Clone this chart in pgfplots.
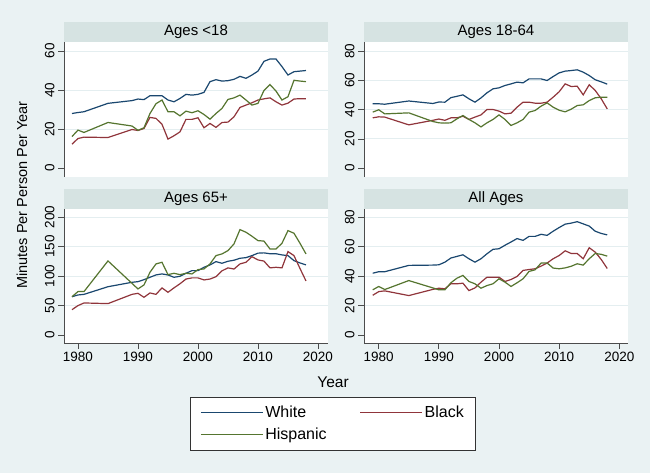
\documentclass[border=0pt]{standalone}
\usepackage{pgfplots}
\pgfplotsset{compat=1.18}
\usepackage{pgfplotstable}
\usepackage{fontspec}
\setmainfont{Liberation Sans}

\definecolor{bgcol}{HTML}{EAF2F3}
\definecolor{bandcol}{HTML}{D6E3E2}
\definecolor{gridcol}{HTML}{E4EEF0}
\definecolor{stnavy}{RGB}{26,71,111}
\definecolor{stmaroon}{RGB}{144,53,59}
\definecolor{stgreen}{RGB}{85,117,47}

% year, white, black, hispanic
\pgfplotstableread{
year white black hisp
1979 28.0 12.3 16.2
1980 28.5 15.2 19.5
1981 28.9 15.9 18.3
1985 33.2 15.7 23.4
1989 34.6 19.8 21.6
1990 35.4 19.3 19.4
1991 35.1 20.3 20.7
1992 37.1 26.0 28.0
1993 37.1 25.5 33.0
1994 37.1 22.5 34.9
1995 34.9 14.9 28.9
1996 34.0 16.6 28.9
1997 35.7 18.6 26.8
1998 37.8 25.0 29.2
1999 37.4 25.0 28.4
2000 37.8 25.8 29.4
2001 38.8 20.7 27.5
2002 44.3 22.9 25.1
2003 45.3 20.9 28.0
2004 44.6 23.4 30.6
2005 44.8 23.6 35.2
2006 45.5 26.3 36.0
2007 47.0 31.1 37.4
2008 46.0 32.3 34.9
2009 47.7 33.5 32.3
2010 49.7 34.9 33.2
2011 54.7 35.5 39.8
2012 55.9 36.0 42.8
2013 55.9 34.0 39.5
2014 52.0 32.3 34.9
2015 47.7 33.3 36.6
2016 49.4 35.4 45.0
2017 49.7 35.6 44.6
2018 50.0 35.6 44.3
}\under

\pgfplotstableread{
year white black hisp
1979 44.0 34.4 38.3
1980 44.0 35.1 39.9
1981 43.7 34.9 37.1
1985 45.9 29.6 37.8
1989 44.2 32.7 31.9
1990 45.2 33.6 31.0
1991 45.1 32.7 30.8
1992 48.2 34.4 31.0
1993 49.1 34.4 33.7
1994 50.1 35.5 36.0
1995 47.4 33.3 33.3
1996 45.1 34.9 31.0
1997 48.0 36.4 28.2
1998 51.5 40.1 31.0
1999 54.2 40.1 33.3
2000 54.9 39.0 36.4
2001 56.5 37.1 33.3
2002 57.6 37.6 29.2
2003 58.8 41.7 31.0
2004 58.3 45.1 33.3
2005 61.0 45.1 38.3
2006 61.0 44.4 39.4
2007 61.0 44.4 42.4
2008 59.9 45.1 44.6
2009 62.6 48.5 41.7
2010 65.1 52.2 39.6
2011 66.3 57.6 38.5
2012 66.7 55.8 40.3
2013 67.2 56.0 42.8
2014 65.6 50.1 43.3
2015 63.3 57.0 46.2
2016 60.4 53.1 48.1
2017 59.0 47.4 48.5
2018 57.4 40.5 48.5
}\adult

\pgfplotstableread{
year white black hisp
1979 65.0 43.0 65.0
1980 68.0 49.9 73.7
1981 69.0 54.4 73.7
1985 82.0 53.3 125.8
1989 89.5 69.0 87.7
1990 90.6 70.8 78.2
1991 94.0 64.0 85.0
1992 98.0 71.4 106.5
1993 102.0 69.0 120.7
1994 103.7 80.0 123.5
1995 102.0 72.5 102.5
1996 98.0 80.0 104.8
1997 99.7 87.0 102.5
1998 104.8 95.0 104.8
1999 109.3 97.0 103.7
2000 109.3 97.0 111.0
2001 115.0 93.5 112.2
2002 119.0 95.0 120.7
2003 124.6 99.0 134.8
2004 121.8 109.0 137.7
2005 125.2 114.0 143.3
2006 127.0 112.0 154.7
2007 130.3 120.7 179.0
2008 131.4 123.5 174.5
2009 134.8 133.0 167.7
2010 139.0 127.5 160.3
2011 139.5 125.5 159.5
2012 138.0 114.0 146.0
2013 138.0 115.0 146.0
2014 136.0 114.0 155.8
2015 134.8 141.6 177.3
2016 126.3 134.8 172.8
2017 122.4 113.0 155.8
2018 119.0 91.8 137.7
}\senior

\pgfplotstableread{
year white black hisp
1979 42.0 27.0 30.7
1980 43.0 29.5 33.0
1981 43.0 30.0 30.9
1985 47.3 26.8 37.0
1989 47.5 31.0 32.0
1990 47.7 31.8 30.7
1991 49.5 31.4 30.7
1992 52.3 34.8 35.5
1993 53.4 34.8 38.6
1994 54.5 35.2 40.5
1995 51.8 30.2 36.4
1996 49.5 32.0 34.8
1997 51.8 35.9 31.8
1998 55.2 39.3 33.6
1999 58.2 39.3 34.8
2000 58.6 39.3 38.2
2001 61.0 36.4 35.9
2002 63.2 37.7 33.0
2003 65.5 39.8 35.5
2004 64.3 43.9 38.2
2005 67.0 44.5 43.2
2006 67.0 45.0 44.3
2007 68.4 46.8 48.9
2008 67.7 48.9 48.9
2009 70.5 51.8 45.5
2010 73.0 54.0 45.0
2011 75.3 57.2 45.6
2012 76.0 55.4 46.7
2013 77.0 55.4 48.4
2014 75.5 51.8 47.5
2015 74.0 59.3 51.8
2016 70.5 56.3 55.4
2017 69.0 51.3 54.8
2018 68.0 45.2 53.6
}\allages

\pgfplotsset{
  panel/.style={
    scale only axis, width=264pt,
    anchor=north west,
    axis background/.style={fill=white},
    axis y line*=left,
    axis line style={black!70, line width=0.8pt},
    tick align=outside, major tick length=6pt,
    tick style={black!70, line width=0.8pt},
    grid style={gridcol, line width=0.9pt},
    ymajorgrids,
    extra tick style={grid=none},
    yticklabel style={rotate=90, anchor=south, font=\fontsize{13.5}{14}\selectfont},
    xticklabel style={font=\fontsize{13.5}{14}\selectfont},
    /pgf/number format/assume math mode=true,
    /pgf/number format/set thousands separator={},
    xtick={1980,1990,2000,2010,2020},
    every axis title/.style={at={(0.5,1)}, anchor=south, fill=bandcol,
      minimum width=264pt, minimum height=20pt, inner sep=0pt,
      font=\fontsize{15}{16}\selectfont},
    every axis plot/.append style={line width=1.2pt},
  },
  toprow/.style={panel, height=135pt, axis x line=none},
  botrow/.style={panel, height=134pt, axis x line*=bottom},
  leftcol/.style={xmin=1977.67, xmax=2021.67},
  rightcol/.style={xmin=1977.55, xmax=2021.45},
}

\begin{document}
\begin{tikzpicture}
\fill[bgcol] (0pt,0pt) rectangle (650pt,473pt);
\useasboundingbox (0pt,0pt) rectangle (650pt,473pt);

% Ages <18
\begin{axis}[toprow, leftcol, at={(64pt,431pt)}, title={Ages <18},
  ymin=-4.5, ymax=64.6, ytick={20,40,60}, extra y ticks={0}]
  \addplot[stnavy] table[x=year, y=white] {\under};
  \addplot[stmaroon] table[x=year, y=black] {\under};
  \addplot[stgreen] table[x=year, y=hisp] {\under};
\end{axis}

% Ages 18-64
\begin{axis}[toprow, rightcol, at={(364pt,431pt)}, title={Ages 18-64},
  ymin=-6.0, ymax=86.2, ytick={20,40,60,80}, extra y ticks={0}]
  \addplot[stnavy] table[x=year, y=white] {\adult};
  \addplot[stmaroon] table[x=year, y=black] {\adult};
  \addplot[stgreen] table[x=year, y=hisp] {\adult};
\end{axis}

% Ages 65+
\begin{axis}[botrow, leftcol, at={(64pt,264pt)}, title={Ages 65+},
  ymin=-13.6, ymax=214, ytick={50,100,150,200}, extra y ticks={0},
  legend columns=2, legend cell align=left,
  legend image code/.code={\draw[#1, line width=1pt] (0pt,0pt) -- (62pt,0pt);},
  legend style={at={(1.019,-0.40)}, anchor=north, fill=white,
    draw=black!80, line width=0.6pt, font=\fontsize{16}{18}\selectfont,
    inner xsep=10pt, inner ysep=7pt, row sep=5pt,
    /tikz/every even column/.append style={column sep=31pt}}]
  \addplot[stnavy] table[x=year, y=white] {\senior};
  \addplot[stmaroon] table[x=year, y=black] {\senior};
  \addplot[stgreen] table[x=year, y=hisp] {\senior};
  \legend{White,Black,Hispanic}
\end{axis}

% All Ages
\begin{axis}[botrow, rightcol, at={(364pt,264pt)}, title={All Ages},
  ymin=-5.4, ymax=85.6, ytick={20,40,60,80}, extra y ticks={0}]
  \addplot[stnavy] table[x=year, y=white] {\allages};
  \addplot[stmaroon] table[x=year, y=black] {\allages};
  \addplot[stgreen] table[x=year, y=hisp] {\allages};
\end{axis}

\node[rotate=90, font=\fontsize{14.5}{15}\selectfont] at (22pt,278pt) {Minutes Per Person Per Year};
\node[font=\fontsize{15.5}{16}\selectfont] at (333pt,91pt) {Year};
\end{tikzpicture}
\end{document}
